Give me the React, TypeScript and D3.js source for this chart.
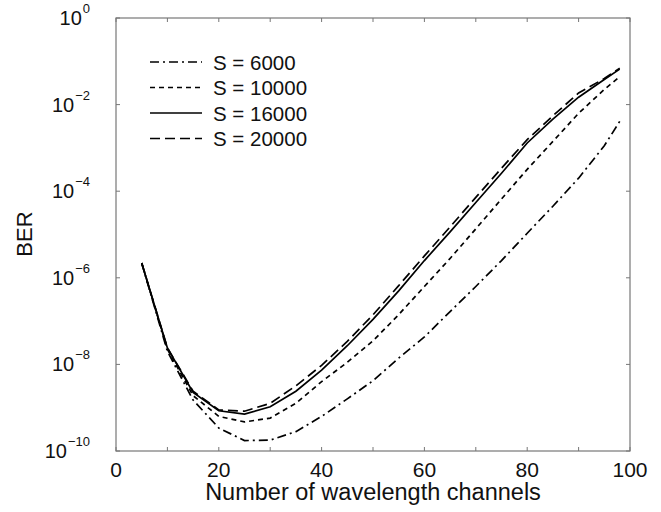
import React from "react";
import * as d3 from "d3";

const channels = [5, 10, 15, 20, 25, 30, 35, 40, 45, 50, 55, 60, 65, 70, 75, 80, 85, 90, 95, 98];

const ber6000 = [2.2e-6, 2.0e-8, 1.5e-9, 3.4e-10, 1.74e-10, 1.78e-10, 2.8e-10, 6.3e-10, 1.6e-9, 4.2e-9, 1.4e-8, 4.3e-8, 1.66e-7, 6.3e-7, 2.5e-6, 1.07e-5, 4.5e-5, 2.0e-4, 1.12e-3, 4.1e-3];
const ber10000 = [2.2e-6, 2.24e-8, 1.9e-9, 6.3e-10, 4.7e-10, 5.75e-10, 1.26e-9, 4.0e-9, 1.12e-8, 3.5e-8, 1.41e-7, 6.3e-7, 2.8e-6, 1.35e-5, 6.6e-5, 3.2e-4, 1.41e-3, 6.3e-3, 2.24e-2, 4.4e-2];
const ber16000 = [2.2e-6, 2.4e-8, 2.24e-9, 8.5e-10, 7.1e-10, 1.05e-9, 2.4e-9, 7.4e-9, 2.7e-8, 1.1e-7, 5.0e-7, 2.5e-6, 1.15e-5, 5.5e-5, 2.6e-4, 1.3e-3, 4.6e-3, 1.48e-2, 3.8e-2, 6.6e-2];
const ber20000 = [2.2e-6, 2.4e-8, 2.4e-9, 8.9e-10, 8.3e-10, 1.26e-9, 3.2e-9, 9.5e-9, 3.4e-8, 1.4e-7, 6.6e-7, 3.2e-6, 1.5e-5, 7.2e-5, 3.4e-4, 1.55e-3, 5.5e-3, 1.86e-2, 4.0e-2, 6.9e-2];

const seriesLabels = ["S = 6000", "S = 10000", "S = 16000", "S = 20000"];
const seriesValues = [ber6000, ber10000, ber16000, ber20000];
const seriesDash = ["9,4,2,4", "5,4", "none", "10,5"];

const xTicks = [0, 20, 40, 60, 80, 100];
const xMinorTicks = [10, 30, 50, 70, 90];
const yTickExponents = [0, -2, -4, -6, -8, -10];

const xLabel = "Number of wavelength channels";
const yLabel = "BER";

export default function App() {
  const left = 116, right = 630, top = 18, bottom = 451;
  const x = d3.scaleLinear().domain([0, 100]).range([left, right]);
  const y = d3.scaleLog().domain([1e-10, 1]).range([bottom, top]);
  const line = d3
    .line<number>()
    .x((_, i) => x(channels[i]))
    .y((d) => y(d));

  const font = "'Liberation Sans', Arial, Helvetica, sans-serif";
  const axisColor = "#777";
  const tickLen = 4;

  return (
    <svg width={661} height={512} style={{ position: "absolute", left: 0, top: 0, background: "#fff" }} fontFamily={font}>
      <rect x={0} y={0} width={661} height={512} fill="#fff" />
      <rect x={left} y={top} width={right - left} height={bottom - top} fill="none" stroke={axisColor} strokeWidth={1.2} />
      {[...xTicks, ...xMinorTicks].map((t) => (
        <g key={"xt" + t}>
          <line x1={x(t)} x2={x(t)} y1={bottom} y2={bottom - tickLen} stroke={axisColor} strokeWidth={1} />
          <line x1={x(t)} x2={x(t)} y1={top} y2={top + tickLen} stroke={axisColor} strokeWidth={1} />
        </g>
      ))}
      {xTicks.map((t) => (
        <text key={"xl" + t} x={x(t)} y={477} textAnchor="middle" fontSize={21} fill="#111">
          {t}
        </text>
      ))}
      {yTickExponents.map((e) => (
        <g key={"yt" + e}>
          <line x1={left} x2={left + tickLen} y1={y(Math.pow(10, e))} y2={y(Math.pow(10, e))} stroke={axisColor} strokeWidth={1} />
          <line x1={right} x2={right - tickLen} y1={y(Math.pow(10, e))} y2={y(Math.pow(10, e))} stroke={axisColor} strokeWidth={1} />
          <text x={90} y={y(Math.pow(10, e)) + 7} textAnchor="end" fontSize={20} fill="#111">
            10
            <tspan dx={1} dy={-12} fontSize={13}>
              {e === 0 ? "0" : "\u2212" + Math.abs(e)}
            </tspan>
          </text>
        </g>
      ))}
      <text x={(left + right) / 2} y={500} textAnchor="middle" fontSize={23.5} fill="#111">
        {xLabel}
      </text>
      <text transform={`translate(32, 234) rotate(-90)`} textAnchor="middle" fontSize={22} fill="#111">
        {yLabel}
      </text>
      {seriesValues.map((vals, i) => (
        <path
          key={"s" + i}
          d={line(vals) || ""}
          fill="none"
          stroke="#000"
          strokeWidth={1.7}
          strokeDasharray={seriesDash[i]}
        />
      ))}
      {seriesLabels.map((lab, i) => {
        const ly = 62 + i * 25.5;
        return (
          <g key={"lg" + i}>
            <line x1={150} x2={202} y1={ly} y2={ly} stroke="#000" strokeWidth={1.7} strokeDasharray={seriesDash[i]} />
            <text x={213} y={ly + 7.5} fontSize={20.5} fill="#111">
              {lab}
            </text>
          </g>
        );
      })}
    </svg>
  );
}
